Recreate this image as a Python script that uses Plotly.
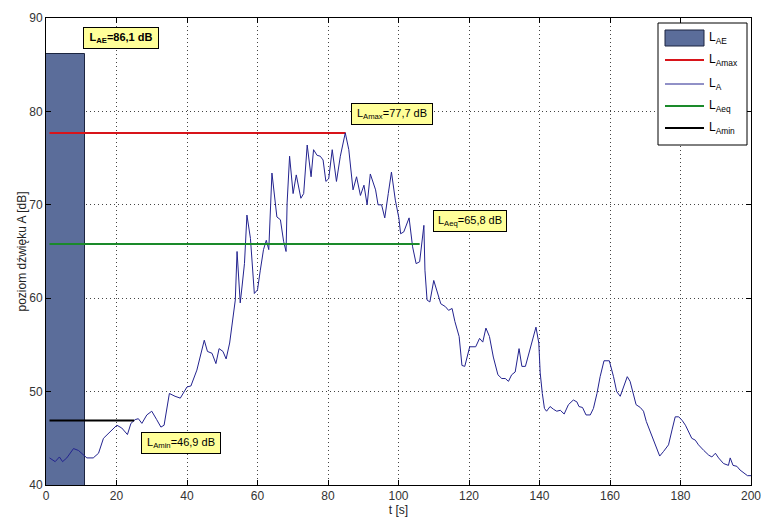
import plotly.graph_objects as go

# Time axis [s] and A-weighted sound level L_A [dB]
t_s = [1, 2.6, 3.8, 4.7, 5.9, 7.8, 9.2, 10.6, 11.6, 13.4, 14.9, 16.3, 17.7, 18.7,
       20.1, 21.5, 23.1, 24.1, 25.3, 26.2, 27.2, 28.6, 30, 31.4, 32.6, 33.5, 35,
       36.6, 38.1, 40, 41.1, 42.8, 43.8, 44.9, 45.8, 47.1, 48.2, 49.1, 50.2, 51.1,
       52.1, 52.9, 53.7, 54.2, 55.1, 55.6, 56.3, 57, 58, 59.1, 60, 60.8, 61.7,
       62.5, 63.2, 64.1, 64.8, 65.5, 66.5, 67.4, 68.1, 68.4, 69.1, 70.1, 71,
       72.3, 73.1, 74.1, 75.2, 75.9, 76.9, 77.8, 78.6, 79.4, 80.2, 81.2, 82.4,
       83.5, 84.9, 85.9, 87.1, 88.1, 89.2, 90.2, 91.1, 92, 93.5, 94.2, 95.2,
       96.1, 97.1, 98, 99.1, 100.1, 100.6, 101.5, 103, 104, 105, 106, 107.2,
       107.5, 108.1, 108.9, 110, 110.9, 112, 113.3, 114.2, 115.2, 116, 117.2,
       118, 118.8, 119.5, 120.2, 121.9, 123, 123.9, 124.8, 125.8, 126.9, 128.2,
       129.3, 130.3, 131.2, 132.1, 133.1, 134.2, 135, 136, 137.3, 138.4, 139,
       139.8, 140.2, 140.8, 141.4, 142, 143, 144, 144.9, 145.9, 147, 148.2,
       149.6, 150.6, 151.2, 152.2, 153.2, 154.4, 155.3, 156.3, 157.2, 158.3,
       159.8, 161, 161.9, 162.9, 163.8, 164.9, 165.7, 166.7, 167.4, 168.6,
       169.5, 170.3, 171.4, 172.8, 174.1, 175.2, 176.6, 177.6, 178.5, 179.5,
       180.5, 181.4, 182.3, 183.2, 184.2, 185.1, 186.6, 188, 188.9, 189.9,
       190.8, 192.2, 193.6, 194.1, 194.9, 196, 196.9, 198, 199, 200]
la_db = [42.9, 42.5, 43.0, 42.5, 42.9, 43.9, 43.7, 43.2, 42.9, 42.9, 43.4, 45.0,
         45.5, 45.9, 46.4, 46.1, 45.4, 46.6, 47.0, 47.1, 46.6, 47.5, 47.9, 47.0,
         46.2, 46.4, 49.8, 49.5, 49.3, 50.5, 50.6, 52.3, 53.9, 55.5, 54.3, 54.1,
         53.0, 54.6, 54.3, 53.5, 55.2, 57.7, 59.8, 65.0, 59.5, 61.2, 63.7, 68.9,
         66.4, 60.5, 60.9, 63.0, 65.2, 66.2, 65.2, 73.4, 70.9, 68.7, 68.4, 66.1,
         65.0, 70.2, 75.2, 71.2, 73.2, 70.7, 71.2, 76.4, 73.0, 75.9, 75.3, 75.2,
         74.8, 72.5, 72.8, 75.9, 72.5, 75.2, 77.7, 75.9, 71.6, 73.0, 71.0, 72.1,
         70.0, 73.3, 71.6, 70.0, 70.0, 68.6, 71.2, 73.5, 70.5, 68.6, 66.9, 67.1,
         68.6, 65.5, 63.7, 63.9, 67.8, 63.0, 59.8, 59.6, 61.9, 60.8, 59.4, 59.1,
         58.7, 58.9, 57.5, 55.9, 52.8, 52.7, 53.7, 54.8, 54.8, 55.7, 55.3, 56.8,
         55.9, 53.7, 51.8, 51.4, 51.4, 51.1, 51.8, 52.1, 54.6, 52.7, 52.7, 54.6,
         55.9, 56.9, 55.2, 52.0, 49.8, 48.2, 47.9, 48.4, 48.1, 47.9, 48.0, 47.6,
         48.6, 49.1, 48.9, 48.4, 48.3, 47.5, 47.5, 48.2, 49.8, 51.6, 53.3, 53.3,
         51.6, 50.0, 49.5, 50.5, 51.6, 51.1, 49.5, 48.6, 48.3, 47.9, 46.8, 45.7,
         44.5, 43.1, 43.6, 44.3, 45.9, 47.3, 47.3, 46.9, 46.4, 45.7, 45.0, 44.8,
         44.3, 43.7, 43.2, 43.0, 43.4, 42.9, 42.3, 42.1, 42.9, 42.1, 42.0, 41.6,
         41.3, 41.0, 41.0]

# Summary levels [dB]
L_AE = 86.1
L_Amax = 77.7
L_Aeq = 65.8
L_Amin = 46.9

# Time spans of the summary marks [s]
ae_end = 11
amax_end = 85
aeq_end = 106
amin_end = 25
line_start = 1

BAR_COLOR = "#5b6d9a"
LA_COLOR = "#23238f"
RED = "#d8141a"
GREEN = "#1a8a2a"
FONT = "Liberation Sans, Arial, sans-serif"

W, H = 761, 521
ML, MR, MT, MB = 46, 10, 18, 36
PW, PH = W - ML - MR, H - MT - MB


def px_x(p):
    return (p - ML) / PW


def px_y(p):
    return (H - MB - p) / PH


fig = go.Figure()

fig.add_trace(go.Bar(
    x=[ae_end / 2], y=[L_AE], width=[ae_end],
    marker=dict(color=BAR_COLOR, line=dict(color="#1c2540", width=1)),
    name="L<sub>AE</sub>",
))
fig.add_trace(go.Scatter(
    x=[line_start, amax_end], y=[L_Amax, L_Amax], mode="lines",
    line=dict(color=RED, width=2), name="L<sub>Amax</sub>",
))
fig.add_trace(go.Scatter(
    x=t_s, y=la_db, mode="lines",
    line=dict(color=LA_COLOR, width=1), name="L<sub>A</sub>",
))
fig.add_trace(go.Scatter(
    x=[line_start, aeq_end], y=[L_Aeq, L_Aeq], mode="lines",
    line=dict(color=GREEN, width=2), name="L<sub>Aeq</sub>",
))
fig.add_trace(go.Scatter(
    x=[line_start, amin_end], y=[L_Amin, L_Amin], mode="lines",
    line=dict(color="black", width=2), name="L<sub>Amin</sub>",
))


def fmt(v):
    return f"{v:.1f}".replace(".", ",")


# Yellow value boxes
boxes = [
    (21.4, 87.85, f"<b>L<sub>AE</sub>=" + fmt(L_AE) + " dB</b>", 70),
    (98.2, 79.7, "L<sub>Amax</sub>=" + fmt(L_Amax) + " dB", 76),
    (120.4, 68.25, "L<sub>Aeq</sub>=" + fmt(L_Aeq) + " dB", 68),
    (38.3, 44.45, "L<sub>Amin</sub>=" + fmt(L_Amin) + " dB", 74),
]
for bx, by, txt, w in boxes:
    fig.add_annotation(
        x=bx, y=by, text=txt, showarrow=False, xanchor="center", yanchor="middle",
        bgcolor="#ffff99", bordercolor="black", borderwidth=1, borderpad=2,
        width=w, height=16, font=dict(family=FONT, size=11, color="black"),
    )

# Legend box drawn in paper coordinates
shapes = [dict(type="rect", xref="paper", yref="paper",
               x0=px_x(658), x1=px_x(747), y0=px_y(145), y1=px_y(23),
               fillcolor="white", line=dict(color="black", width=1), layer="above")]
legend_rows = [
    ("L<sub>AE</sub>", "patch", BAR_COLOR, 38),
    ("L<sub>Amax</sub>", "line", RED, 60),
    ("L<sub>A</sub>", "thin", LA_COLOR, 84),
    ("L<sub>Aeq</sub>", "line", GREEN, 106),
    ("L<sub>Amin</sub>", "line", "black", 128),
]
for label, kind, color, yc in legend_rows:
    if kind == "patch":
        shapes.append(dict(type="rect", xref="paper", yref="paper",
                           x0=px_x(665), x1=px_x(704), y0=px_y(yc + 8), y1=px_y(yc - 8),
                           fillcolor=color, line=dict(color="#1c2540", width=1),
                           layer="above"))
    else:
        shapes.append(dict(type="line", xref="paper", yref="paper",
                           x0=px_x(665), x1=px_x(704), y0=px_y(yc), y1=px_y(yc),
                           line=dict(color=color, width=1 if kind == "thin" else 2),
                           layer="above"))
    fig.add_annotation(
        xref="paper", yref="paper", x=px_x(707), y=px_y(yc),
        text=label, showarrow=False, xanchor="left", yanchor="middle",
        font=dict(family=FONT, size=12, color="black"),
    )

axis_common = dict(
    showline=True, linecolor="black", linewidth=1, mirror="allticks",
    ticks="inside", ticklen=5, tickcolor="black", automargin=False,
    ticklabeloverflow="allow",
    showgrid=True, gridcolor="#444444", griddash="1px,3px", gridwidth=1,
    zeroline=False, tickfont=dict(family=FONT, size=12, color="#333333"),
    title_font=dict(family=FONT, size=12, color="#222222"),
)

fig.update_layout(
    width=W, height=H,
    margin=dict(l=ML, r=MR, t=MT, b=MB),
    paper_bgcolor="white", plot_bgcolor="white",
    showlegend=False, bargap=0, shapes=shapes,
    xaxis=dict(range=[0, 200], dtick=20, title=dict(text="t [s]", standoff=2), **axis_common),
    yaxis=dict(range=[40, 90], dtick=10, title=dict(text="poziom dźwięku A [dB]", standoff=0),
               **axis_common),
)

fig.write_html("out.html")
